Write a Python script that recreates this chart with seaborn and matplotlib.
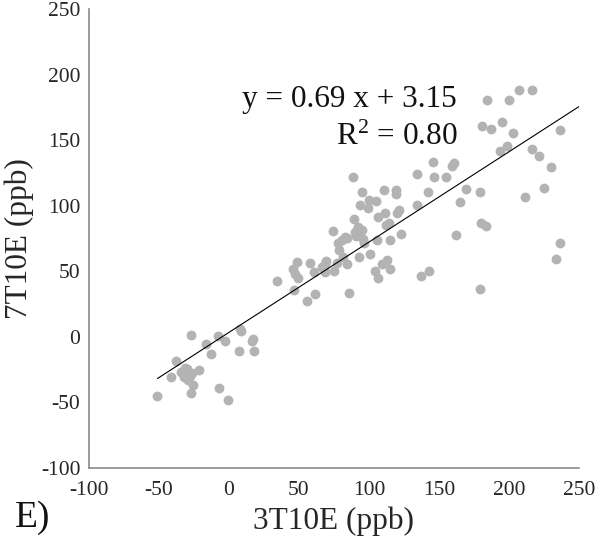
import numpy as np
import pandas as pd
import matplotlib
matplotlib.use("Agg")
import matplotlib.pyplot as plt
import seaborn as sns

# 3T10E vs 7T10E concentrations (ppb)
x_3t10e = [-51, -41.6, -37.7, -34, -32, -30, -28, -26, -29.5, -31, -27.3, -26.8, -25.4,
           -21, -16.4, -12.9, -7.7, -7.1, -2.5, -0.3, 7.1, 8.2, 8.8, 17.2, 18.3, 16.5,
           34.7, 45.7, 46.5, 47, 48.4, 49.2, 56, 58.2, 60.7, 61.8, 66.2, 68.4, 69.5, 68.9,
           74.4, 75.2, 77.1, 78.2, 78.8, 80.7, 81.8, 82.6, 84, 84.2, 85.6, 88.9, 89.4,
           90.2, 90.8, 92, 93, 93.5, 94.9, 94.9, 95.7, 96.8, 99, 100.4, 100.9, 105.3,
           105.8, 104.5, 106.6, 106.6, 109.4, 111, 111.3, 112, 113.2, 114, 115.4, 115.4,
           119, 119, 120.3, 121.7, 122.8, 134.5, 134.5, 137.3, 142, 143, 145.7, 146.6,
           154.8, 159, 160.5, 162, 165, 169.3, 179.4, 179.6, 180, 181, 183.8, 184.6,
           187.3, 193.6, 194.7, 198.8, 200.2, 203.2, 207.3, 216.5, 211.6, 216.6, 221.2,
           224.8, 230.2, 233.5, 236.5, 236.5]
y_7t10e = [-45.6, -30.9, -18.5, -27, -31, -25, -30, -28, -33, -24, 1.3, -43, -36.7,
           -25.6, -5.5, -13.5, 0.8, -39.6, -3.4, -48.5, -10.8, 6.1, 4.5, -1.8, -10.8, -3,
           42.5, 51.7, 35.6, 47.8, 57, 45, 27.4, 56.5, 49, 32.2, 53, 55.7, 57.8, 49,
           80.7, 50.4, 56.5, 71.5, 66.2, 74.1, 61, 76, 55.7, 75.5, 33.2, 122, 90,
           80, 76.8, 83.4, 61, 100.5, 110.3, 81.5, 74.7, 71.5, 98.4, 104.5, 63, 103.7,
           74, 50.4, 45, 91.3, 55.7, 112, 94.5, 85, 58.3, 86.5, 51.7, 73.4,
           112, 109, 94, 96.6, 78, 124, 100.5, 46, 110.5, 50.4, 133, 121.6,
           121.6, 130, 132.7, 77.8, 102.4, 112.4, 110.5, 36.7, 86.8, 160.7, 84.4, 181,
           158.6, 141.4, 163.9, 145.4, 181, 155.4, 188, 188, 106.9, 143.3, 137.7,
           113.7, 129.5, 59.6, 157.8, 71.5]

# fit reported on the figure
slope = 0.69
intercept = 3.15
r_squared = 0.80

df = pd.DataFrame({"3T10E": x_3t10e, "7T10E": y_7t10e})

sns.set_style("white")
plt.rcParams["font.family"] = ["Liberation Serif", "DejaVu Serif"]
plt.rcParams["mathtext.fontset"] = "custom"
plt.rcParams["mathtext.rm"] = "Liberation Serif"
plt.rcParams["mathtext.it"] = "Liberation Serif:italic"
plt.rcParams["axes.unicode_minus"] = False

fig = plt.figure(figsize=(6, 5.43), dpi=100)
ax = fig.add_axes([0.148, 0.139, 0.817, 0.844])

sns.scatterplot(data=df, x="3T10E", y="7T10E", ax=ax, color="#b3b3b3",
                s=50, linewidth=0, legend=False)

# regression line from the smallest x to the right edge
xmin = min(x_3t10e)
line_x = np.array([xmin, 250])
ax.plot(line_x, slope * line_x + intercept, color="black", lw=0.8)

ax.text(163, 181, f"y = {slope:.2f} x + {intercept:.2f}", ha="right", va="center",
        fontsize=22.5, color="#111111")
ax.text(163, 152, r"R$^{\mathrm{2}}$" + f" = {r_squared:.2f}", ha="right", va="center",
        fontsize=22.5, color="#111111")

ax.set_xlim(-100, 250)
ax.set_ylim(-100, 250)
ax.set_xticks(np.arange(-100, 251, 50))
ax.set_yticks(np.arange(-100, 251, 50))

for side in ["top", "right"]:
    ax.spines[side].set_visible(False)
for side in ["left", "bottom"]:
    ax.spines[side].set_color("#8a8a8a")
    ax.spines[side].set_linewidth(1.2)

ax.tick_params(direction="in", length=3, width=1, color="#8a8a8a",
               labelsize=15.5, labelcolor="#262626")
ax.tick_params(axis="x", pad=10)
ax.tick_params(axis="y", pad=6)

ax.set_xlabel("3T10E (ppb)", fontsize=22.5, color="#262626")
ax.set_ylabel("7T10E (ppb)", fontsize=22.5, color="#262626")
ax.xaxis.set_label_coords(0.5, -0.085)
ax.yaxis.set_label_coords(-0.112, 0.5)

fig.text(0.025, 0.046, "E)", fontsize=27, ha="left", va="center", color="#111111")

fig.savefig("out.png", dpi=100)
